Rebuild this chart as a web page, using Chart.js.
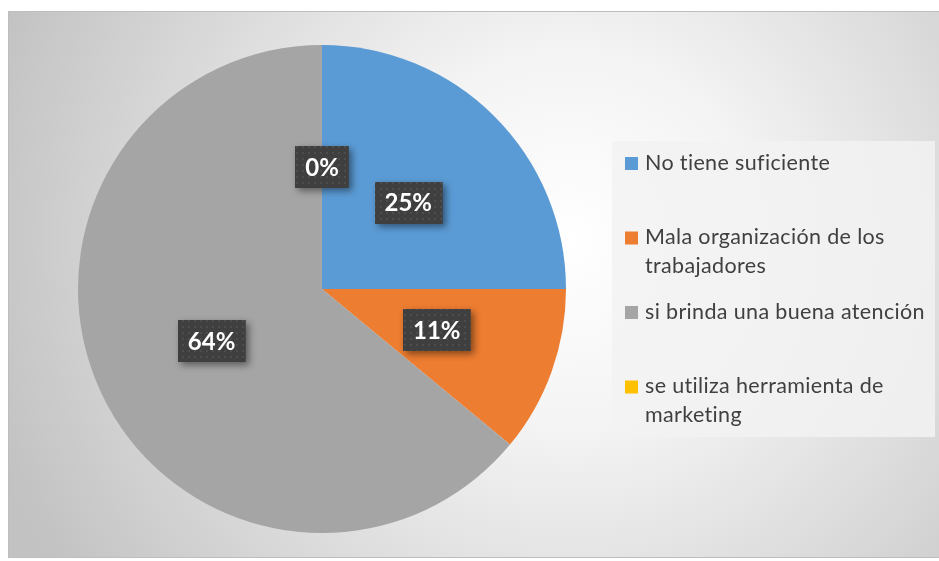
<!DOCTYPE html>
<html>
<head>
<meta charset="utf-8">
<script src="https://cdn.jsdelivr.net/npm/chart.js@4/dist/chart.umd.min.js"></script>
<style>
  html, body { margin: 0; padding: 0; background: #fff; }
  #wrap { width: 939px; height: 561px; position: relative; }
</style>
</head>
<body>
<div id="wrap"><canvas id="pieChart" width="939" height="561"></canvas></div>
<script>
// data
var categories = [
  "No tiene suficiente",
  "Mala organización de los trabajadores",
  "si brinda una buena atención",
  "se utiliza herramienta de marketing"
];
var percentValues = [25, 11, 64, 0];
var sliceColors = ["#5B9BD5", "#ED7D31", "#A5A5A5", "#FFC000"];

var labelFont = "bold 24px Lato";
var legendFont = "21.5px Lato";

// dotted texture for the label boxes
function makePattern(ctx) {
  var c = document.createElement("canvas");
  c.width = 6;
  c.height = 6;
  var p = c.getContext("2d");
  p.fillStyle = "#3f3f3f";
  p.fillRect(0, 0, 6, 6);
  p.fillStyle = "#4d4d4d";
  p.fillRect(2, 2, 2, 2);
  return ctx.createPattern(c, "repeat");
}

//background + frame
var backgroundPlugin = {
  id: "bgFrame",
  beforeDraw: function (chart) {
    var ctx = chart.ctx;
    ctx.save();
    ctx.fillStyle = "#fff";
    ctx.fillRect(0, 0, chart.width, chart.height);
    var g = ctx.createRadialGradient(570, 240, 0, 570, 240, 610);
    g.addColorStop(0, "#ffffff");
    g.addColorStop(0.3, "#f4f4f4");
    g.addColorStop(1, "#c2c2c2");
    ctx.fillStyle = g;
    ctx.fillRect(8, 11, 940, 547);
    ctx.strokeStyle = "#bdbdbd";
    ctx.lineWidth = 1;
    ctx.strokeRect(8.5, 11.5, 940, 546);
    ctx.restore();
  }
};

//percentage boxes
var labelPlugin = {
  id: "boxLabels",
  afterDatasetsDraw: function (chart) {
    var ctx = chart.ctx;
    var meta = chart.getDatasetMeta(0);
    var data = chart.data.datasets[0].data;
    var total = data.reduce(function (a, b) { return a + b; }, 0);
    var pattern = makePattern(ctx);
    ctx.save();
    ctx.font = labelFont;
    ctx.textAlign = "center";
    ctx.textBaseline = "middle";
    meta.data.forEach(function (arc, i) {
      var pt = arc.getCenterPoint();
      var txt = Math.round((data[i] / total) * 100) + "%";
      var w = ctx.measureText(txt).width + 20;
      var h = 42;
      var x = Math.round(pt.x - w / 2);
      var y = Math.round(pt.y - h / 2);
      ctx.save();
      ctx.shadowColor = "rgba(0,0,0,0.45)";
      ctx.shadowBlur = 7;
      ctx.shadowOffsetX = 3;
      ctx.shadowOffsetY = 3;
      ctx.fillStyle = "#3f3f3f";
      ctx.fillRect(x, y, w, h);
      ctx.restore();
      ctx.fillStyle = pattern;
      ctx.fillRect(x, y, w, h);
      ctx.fillStyle = "#ffffff";
      ctx.fillText(txt, pt.x, pt.y + 1);
    });
    ctx.restore();
  }
};

//legend
function wrapText(ctx, text, maxWidth) {
  var words = text.split(" ");
  var lines = [];
  var line = "";
  words.forEach(function (word) {
    var test = line ? line + " " + word : word;
    if (ctx.measureText(test).width > maxWidth && line) {
      lines.push(line);
      line = word;
    } else {
      line = test;
    }
  });
  if (line) lines.push(line);
  return lines;
}

var legendPlugin = {
  id: "sideLegend",
  afterDraw: function (chart) {
    var ctx = chart.ctx;
    var colors = chart.data.datasets[0].backgroundColor;
    ctx.save();
    ctx.fillStyle = "rgba(242,242,242,0.85)";
    ctx.fillRect(612, 141, 323, 296);
    ctx.font = legendFont;
    ctx.letterSpacing = "0.35px"; // also stops the "ti" ligature
    ctx.textBaseline = "middle";
    ctx.textAlign = "left";
    chart.data.labels.forEach(function (label, i) {
      var y = 163 + i * 74.5;
      ctx.fillStyle = colors[i];
      ctx.fillRect(625, y - 6, 13, 13);
      ctx.fillStyle = "#404040";
      wrapText(ctx, label, 288).forEach(function (ln, j) {
        ctx.fillText(ln, 645, y + j * 29);
      });
    });
    ctx.restore();
  }
};

var ctxP = document.getElementById("pieChart").getContext("2d");
var myPieChart = new Chart(ctxP, {
  type: "pie",
  data: {
    labels: categories,
    datasets: [
      {
        data: percentValues,
        backgroundColor: sliceColors,
        borderWidth: 0
      }
    ]
  },
  options: {
    responsive: false,
    animation: false,
    layout: {
      padding: { left: 78, right: 373, top: 45, bottom: 28 }
    },
    plugins: {
      legend: { display: false },
      tooltip: { enabled: false }
    }
  },
  plugins: [backgroundPlugin, labelPlugin, legendPlugin]
});
</script>
</body>
</html>
